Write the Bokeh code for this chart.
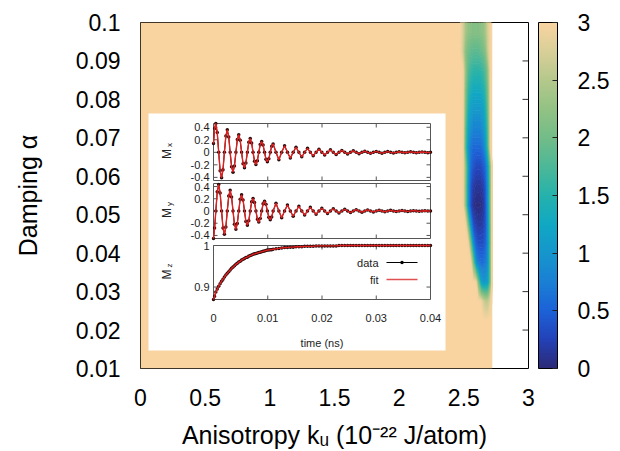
import numpy as np
from bokeh.plotting import figure
from bokeh.models import (LinearColorMapper, ColorBar, FixedTicker, LinearAxis,
                          CustomJSTickFormatter, Range1d)
from bokeh.embed import file_html
from bokeh.resources import INLINE
from bokeh.core.properties import value

# ---------------- data ----------------
x_ticks = [0, 0.5, 1, 1.5, 2, 2.5, 3]
y_ticks = [0.01, 0.02, 0.03, 0.04, 0.05, 0.06, 0.07, 0.08, 0.09, 0.1]
cbar_ticks = [0, 0.5, 1, 1.5, 2, 2.5, 3]

# heat map: flat (saturated) region plus the valley near k_u ~ 2.6
flat_x = [0.0, 2.72]
flat_value = [[3.0]]
heat_y = [0.01, 0.1]
valley_x = [2.45, 2.47, 2.49, 2.51, 2.53, 2.55, 2.57, 2.59, 2.61, 2.63, 2.65,
            2.67, 2.69, 2.71, 2.72]
valley_y = [0.1, 0.0975, 0.0925, 0.0875, 0.0825, 0.0775, 0.0725, 0.0675, 0.0625,
            0.0575, 0.0525, 0.0475, 0.0425, 0.0375, 0.0325, 0.0275, 0.0225,
            0.0175, 0.0125, 0.01]
valley_values = [
    [3, 3, 2.76, 2.43, 2.25, 2.17, 2.15, 2.15, 2.15, 2.17, 2.25, 2.43, 2.76, 3, 3],
    [3, 3, 2.76, 2.43, 2.25, 2.17, 2.15, 2.15, 2.15, 2.17, 2.25, 2.43, 2.76, 3, 3],
    [3, 3, 2.7, 2.2, 2.0, 1.9, 1.85, 1.85, 1.85, 1.9, 2.0, 2.2, 2.7, 3, 3],
    [3, 3, 3, 2.3, 1.85, 1.65, 1.55, 1.55, 1.55, 1.55, 1.65, 1.85, 2.3, 3, 3],
    [3, 3, 3, 2.15, 1.65, 1.4, 1.3, 1.3, 1.3, 1.3, 1.4, 1.65, 2.15, 3, 3],
    [3, 3, 3, 2.05, 1.45, 1.15, 1.05, 1.05, 1.05, 1.05, 1.15, 1.45, 2.05, 3, 3],
    [3, 3, 3, 1.9, 1.25, 0.95, 0.8, 0.8, 0.8, 0.8, 0.95, 1.25, 1.9, 3, 3],
    [3, 3, 3, 1.8, 1.05, 0.7, 0.55, 0.55, 0.55, 0.55, 0.7, 1.05, 1.8, 3, 3],
    [3, 3, 3, 2.25, 1.2, 0.6, 0.4, 0.3, 0.3, 0.3, 0.4, 0.6, 1.2, 2.25, 3],
    [3, 3, 3, 2.2, 1.05, 0.45, 0.2, 0.13, 0.12, 0.13, 0.2, 0.45, 1.05, 2.2, 3],
    [3, 3, 3, 2.2, 1.0, 0.4, 0.1, 0.04, 0.03, 0.04, 0.1, 0.4, 1.0, 2.2, 3],
    [3, 3, 3, 3, 2.1, 1.0, 0.4, 0.2, 0.15, 0.15, 0.2, 0.4, 1.0, 2.1, 3],
    [3, 3, 3, 3, 3, 2.1, 1.0, 0.5, 0.35, 0.35, 0.35, 0.5, 1.0, 2.1, 3],
    [3, 3, 3, 3, 3, 3, 2.1, 1.05, 0.7, 0.6, 0.6, 0.7, 1.05, 2.1, 3],
    [3, 3, 3, 3, 3, 3, 3, 3, 2.05, 1.2, 1.0, 1.0, 1.2, 2.05, 3],
    [3, 3, 3, 3, 3, 3, 3, 3, 3, 3, 2.7, 2.55, 2.6, 2.9, 3],
    [3, 3, 3, 3, 3, 3, 3, 3, 3, 3, 3, 3, 3, 3, 3],
    [3, 3, 3, 3, 3, 3, 3, 3, 3, 3, 3, 3, 3, 3, 3],
    [3, 3, 3, 3, 3, 3, 3, 3, 3, 3, 3, 3, 3, 3, 3],
    [3, 3, 3, 3, 3, 3, 3, 3, 3, 3, 3, 3, 3, 3, 3],
]

# inset: magnetisation components vs time
time_ns = [0.0, 0.0002, 0.00043, 0.00069, 0.00096, 0.00122, 0.00149, 0.00175,
           0.00201, 0.00228, 0.00254, 0.00281, 0.00307, 0.00333, 0.0036, 0.00386,
           0.00413, 0.00439, 0.00465, 0.00492, 0.00518, 0.00545, 0.00571, 0.00597,
           0.00624, 0.0065, 0.00677, 0.00703, 0.00729, 0.00756, 0.00782, 0.00809,
           0.00835, 0.00861, 0.00888, 0.00914, 0.00941, 0.00967, 0.00993, 0.0102,
           0.01046, 0.01073, 0.01099, 0.01152, 0.01205, 0.01257, 0.0131, 0.01363,
           0.01416, 0.01469, 0.01521, 0.01574, 0.01627, 0.0168, 0.01733, 0.01785,
           0.01838, 0.01891, 0.01944, 0.01997, 0.02049, 0.02102, 0.02155, 0.02208,
           0.02261, 0.02313, 0.02366, 0.02419, 0.02472, 0.02525, 0.02577, 0.0263,
           0.02683, 0.02736, 0.02789, 0.02841, 0.02894, 0.02947, 0.03, 0.03053,
           0.03105, 0.03158, 0.03211, 0.03264, 0.03317, 0.03369, 0.03422, 0.03475,
           0.03528, 0.03581, 0.03633, 0.03686, 0.03739, 0.03792, 0.03845, 0.03897,
           0.0395, 0.04]
mx = [0.14, 0.38, 0.46, 0.315, 0.0, -0.296, -0.406, -0.279, 0.0, 0.262,
      0.359, 0.246, 0.0, -0.231, -0.317, -0.218, 0.0, 0.204, 0.28, 0.192,
      0.0, -0.181, -0.248, -0.17, 0.0, 0.16, 0.219, 0.15, 0.0, -0.141,
      -0.193, -0.133, 0.0, 0.124, 0.171, 0.117, 0.0, -0.11, -0.151, -0.103,
      0.0, 0.098, 0.133, 0.0, -0.118, 0.0, 0.104, 0.0, -0.092, 0.0,
      0.081, 0.0, -0.072, 0.0, 0.063, 0.0, -0.056, 0.0, 0.05, 0.0,
      -0.044, 0.0, 0.039, 0.0, -0.034, 0.0, 0.03, 0.0, -0.027, 0.0,
      0.024, 0.0, -0.021, 0.0, 0.018, 0.0, -0.016, 0.0, 0.014, 0.0,
      -0.013, 0.0, 0.011, 0.0, -0.01, 0.0, 0.009, 0.0, -0.008, 0.0,
      0.007, 0.0, -0.006, 0.0, 0.005, 0.0, -0.005, 0.0]
my = [-0.45, -0.28, 0.0, 0.315, 0.432, 0.296, 0.0, -0.279, -0.382, -0.262,
      0.0, 0.246, 0.338, 0.231, 0.0, -0.218, -0.298, -0.204, 0.0, 0.192,
      0.264, 0.181, 0.0, -0.17, -0.233, -0.16, 0.0, 0.15, 0.206, 0.141,
      0.0, -0.133, -0.182, -0.124, 0.0, 0.117, 0.161, 0.11, 0.0, -0.103,
      -0.142, -0.098, 0.0, 0.125, 0.0, -0.111, 0.0, 0.098, 0.0, -0.086,
      0.0, 0.076, 0.0, -0.067, 0.0, 0.06, 0.0, -0.053, 0.0, 0.047,
      0.0, -0.041, 0.0, 0.036, 0.0, -0.032, 0.0, 0.028, 0.0, -0.025,
      0.0, 0.022, 0.0, -0.02, 0.0, 0.017, 0.0, -0.015, 0.0, 0.014,
      0.0, -0.012, 0.0, 0.011, 0.0, -0.009, 0.0, 0.008, 0.0, -0.007,
      0.0, 0.006, 0.0, -0.006, 0.0, 0.005, 0.0, 0.0]
mz = [0.87, 0.878, 0.888, 0.895, 0.902, 0.908, 0.914, 0.919, 0.924, 0.929,
      0.933, 0.937, 0.941, 0.945, 0.948, 0.951, 0.955, 0.957, 0.96, 0.962,
      0.965, 0.967, 0.969, 0.971, 0.972, 0.974, 0.976, 0.977, 0.979, 0.98,
      0.981, 0.982, 0.983, 0.984, 0.985, 0.986, 0.987, 0.988, 0.989, 0.989,
      0.99, 0.99, 0.991, 0.992, 0.993, 0.994, 0.995, 0.995, 0.996, 0.996,
      0.997, 0.997, 0.997, 0.998, 0.998, 0.998, 0.998, 0.999, 0.999, 0.999,
      0.999, 0.999, 0.999, 0.999, 0.999, 1.0, 1.0, 1.0, 1.0, 1.0,
      1.0, 1.0, 1.0, 1.0, 1.0, 1.0, 1.0, 1.0, 1.0, 1.0,
      1.0, 1.0, 1.0, 1.0, 1.0, 1.0, 1.0, 1.0, 1.0, 1.0,
      1.0, 1.0, 1.0, 1.0, 1.0, 1.0, 1.0, 1.0]
fit_mx, fit_my, fit_mz = mx, my, mz   # the fit lies on the data

t_ticks = [0, 0.01, 0.02, 0.03, 0.04]
t_labels = ["0", "0.01", "0.02", "0.03", "0.04"]
mxy_ticks = [-0.4, -0.2, 0, 0.2, 0.4]
mxy_labels = ["-0.4", "-0.2", "0", "0.2", "0.4"]
mz_ticks = [0.9, 1.0]
mz_labels = ["0.9", "1"]
t_range = [0, 0.04]
mx_range = [-0.45, 0.46]
my_range = [-0.45, 0.45]
mz_range = [0.87, 1.0]

# ---------------- style / layout ----------------
FONT = "Liberation Sans"
FL, FR, FT, FB = 140, 528, 22, 368          # main frame on page (px)
IL, IR = 213, 430                            # inset panels left/right (px)
PANELS = {"mx": (123, 180), "my": (183, 238), "mz": (245, 299)}

anchors = [(0.0, "#2c2a78"), (0.25, "#2442b8"), (0.5, "#1c62d8"),
           (0.75, "#1a80d4"), (1.0, "#1696cc"), (1.25, "#10a8c4"),
           (1.5, "#26b2ac"), (1.75, "#4cb898"), (2.0, "#72bc88"),
           (2.25, "#92c284"), (2.5, "#b4c88c"), (2.75, "#d8cf98"),
           (3.0, "#f9d4a1")]
def _rgb(h):
    return [int(h[i:i + 2], 16) for i in (1, 3, 5)]
av = np.array([a[0] for a in anchors])
ac = np.array([_rgb(a[1]) for a in anchors], dtype=float)
def cmap(v):
    return "#%02x%02x%02x" % tuple(int(round(np.interp(v, av, ac[:, k]))) for k in range(3))
palette = [cmap(l) for l in np.linspace(0, 3, 256)]
mapper = LinearColorMapper(palette=palette, low=0, high=3)

fmt = CustomJSTickFormatter(code="return String(Math.round(tick*1000)/1000);")

p = figure(frame_width=FR - FL, frame_height=FB - FT,
           x_range=Range1d(0, 3), y_range=Range1d(0.01, 0.1),
           output_backend="svg", toolbar_location=None,
           min_border_left=FL, min_border_top=FT,
           min_border_bottom=80, min_border_right=0)
p.grid.visible = False
p.outline_line_color = "black"
p.outline_line_width = 1
p.background_fill_color = "white"
p.border_fill_color = "white"

for ax, ticks in ((p.xaxis[0], x_ticks), (p.yaxis[0], y_ticks)):
    ax.ticker = FixedTicker(ticks=ticks)
    ax.formatter = fmt
    ax.major_tick_in = 0
    ax.major_tick_out = 0
    ax.minor_tick_line_color = None
    ax.axis_line_color = None
    ax.major_label_text_font = FONT
    ax.major_label_text_font_size = "23px"
    ax.major_label_text_color = "black"
    ax.axis_label_text_font = FONT
    ax.axis_label_text_font_size = "25px"
    ax.axis_label_text_font_style = "normal"
    ax.axis_label_text_color = "black"
p.xaxis[0].major_label_standoff = 20
p.yaxis[0].major_label_standoff = 20
p.xaxis[0].axis_label = "Anisotropy kᵤ (10⁻²² J/atom)"
p.xaxis[0].axis_label_standoff = 12
p.yaxis[0].axis_label = "Damping α"
p.yaxis[0].axis_label_standoff = 31

# heat map
p.image(image=[np.array(flat_value)], x=flat_x[0], y=heat_y[0],
        dw=flat_x[1] - flat_x[0], dh=heat_y[1] - heat_y[0], color_mapper=mapper)
levels = list(np.linspace(0, 2.97, 67))
band_colors = [cmap((a + b) / 2) for a, b in zip(levels[:-1], levels[1:])]
p.contour(x=valley_x, y=valley_y[::-1], z=np.array(valley_values, dtype=float)[::-1],
          levels=levels, fill_color=band_colors,
          line_color=[cmap(l) for l in levels], line_width=1)

# mirrored ticks on the right side of the main frame
p.ray(x=[3] * (len(y_ticks) - 2), y=y_ticks[1:-1], length=6, length_units="screen",
      angle=np.pi, line_color="#333333", line_width=1)

# spacer between frame and colour bar (empty axis with a blank label)
spacer = LinearAxis(ticker=FixedTicker(ticks=[]), major_tick_line_color=None,
                    minor_tick_line_color=None, axis_line_color=None,
                    major_label_text_font_size="1px", major_label_standoff=0,
                    major_tick_out=0, major_tick_in=0,
                    axis_label="\u00a0", axis_label_text_font_size="7px",
                    axis_label_standoff=0)
p.add_layout(spacer, "right")

# colour bar
cb = ColorBar(color_mapper=mapper, ticker=FixedTicker(ticks=cbar_ticks), formatter=fmt,
              width=19, padding=0, margin=9, location=(0, 0),
              major_label_text_font=FONT, major_label_text_font_size="23px",
              major_label_text_color="black", label_standoff=20,
              major_tick_line_color="#222222", major_tick_in=5, major_tick_out=0,
              bar_line_color="black", border_line_color=None,
              background_fill_color=None)
p.add_layout(cb, "right")

# ---------------- inset ----------------
def extra_range(lo, hi, p_lo, p_hi, f_start, f_end):
    s = (hi - lo) / (p_hi - p_lo)
    return Range1d(lo + (f_start - p_lo) * s, lo + (f_end - p_lo) * s)

p.extra_x_ranges = {"px": Range1d(FL, FR),
                    "t": extra_range(t_range[0], t_range[1], IL, IR, FL, FR)}
p.extra_y_ranges = {"py": Range1d(FB, FT)}
yr = {"mx": mx_range, "my": my_range, "mz": mz_range}
for k, (top, bot) in PANELS.items():
    p.extra_y_ranges[k] = extra_range(yr[k][0], yr[k][1], bot, top, FB, FT)

# white box
p.quad(left=[148], right=[445], top=[113], bottom=[350], x_range_name="px",
       y_range_name="py", fill_color="white", line_color=None)

axis_col = "#555555"
series = {"mx": (mx, fit_mx, mxy_ticks, mxy_labels),
          "my": (my, fit_my, mxy_ticks, mxy_labels),
          "mz": (mz, fit_mz, mz_ticks, mz_labels)}
for k, (dat, fit, ytk, ylb) in series.items():
    lo, hi = yr[k]
    kw = dict(x_range_name="t", y_range_name=k)
    p.quad(left=[t_range[0]], right=[t_range[1]], bottom=[lo], top=[hi],
           fill_color=None, line_color=axis_col, line_width=1, **kw)
    inner_t = t_ticks[1:-1]
    p.ray(x=inner_t, y=[lo] * len(inner_t), length=4, length_units="screen",
          angle=np.pi / 2, line_color=axis_col, **kw)
    p.ray(x=inner_t, y=[hi] * len(inner_t), length=4, length_units="screen",
          angle=-np.pi / 2, line_color=axis_col, **kw)
    p.ray(x=[t_range[0]] * len(ytk), y=ytk, length=4, length_units="screen",
          angle=0, line_color=axis_col, **kw)
    p.ray(x=[t_range[1]] * len(ytk), y=ytk, length=4, length_units="screen",
          angle=np.pi, line_color=axis_col, **kw)
    p.text(x=[t_range[0]] * len(ytk), y=ytk, text=ylb, x_offset=-4,
           text_align="right", text_baseline="middle", text_font=value(FONT),
           text_font_size="11px", text_color="#222222", **kw)
    p.line(time_ns, dat, line_color="black", line_width=1, **kw)
    p.scatter(time_ns, dat, size=3.5, marker="circle", fill_color="#2a0a0a",
              line_color=None, **kw)
    p.line(time_ns, fit, line_color="#e02020", line_width=1.4, **kw)

# inset x tick labels and title
p.text(x=t_ticks, y=[317] * len(t_ticks), text=t_labels, x_range_name="t",
       y_range_name="py", text_align="center", text_baseline="middle",
       text_font=value(FONT), text_font_size="11px", text_color="#222222")
p.text(x=[(IL + IR) / 2], y=[342], text=["time (ns)"], x_range_name="px",
       y_range_name="py", text_align="center", text_baseline="middle",
       text_font=value(FONT), text_font_size="11px", text_color="#222222")

# inset y labels M_x, M_y, M_z
sub = ["x", "y", "z"]
for (k, (top, bot)), s in zip(PANELS.items(), sub):
    yc = (top + bot) / 2
    p.text(x=[166], y=[yc + 2], text=["M"], angle=np.pi / 2, x_range_name="px",
           y_range_name="py", text_align="center", text_baseline="middle",
           text_font=value(FONT), text_font_size="12px", text_color="#222222")
    p.text(x=[169], y=[yc - 5], text=[s], angle=np.pi / 2, x_range_name="px",
           y_range_name="py", text_align="left", text_baseline="middle",
           text_font=value(FONT), text_font_size="8px", text_color="#222222")

# inset legend
p.text(x=[378, 378], y=[262, 279], text=["data", "fit"], x_range_name="px",
       y_range_name="py", text_align="right", text_baseline="middle",
       text_font=value(FONT), text_font_size="11px", text_color="#222222")
p.segment(x0=[386], x1=[417], y0=[262], y1=[262], x_range_name="px",
          y_range_name="py", line_color="black", line_width=1)
p.scatter(x=[401.5], y=[262], size=3.5, marker="circle", fill_color="black",
          line_color=None, x_range_name="px", y_range_name="py")
p.segment(x0=[386], x1=[417], y0=[279], y1=[279], x_range_name="px",
          y_range_name="py", line_color="#e05050", line_width=1.4)

open("out.html", "w").write(file_html(p, INLINE))
